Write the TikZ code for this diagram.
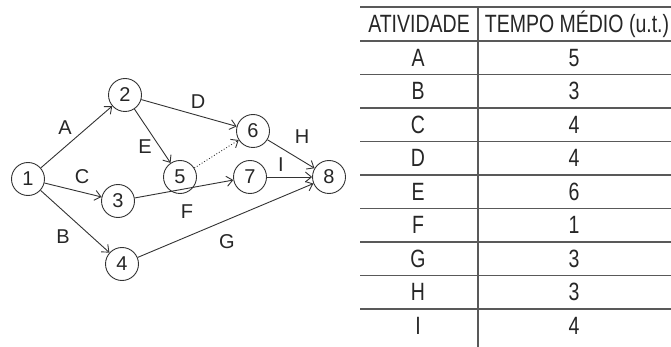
\documentclass[tikz,border=0pt]{standalone}
\usepackage{fontspec}
\setmainfont{Liberation Sans}
\newfontfamily\condfont{Liberation Sans}[FakeStretch=0.78]
\usetikzlibrary{arrows.meta}
\begin{document}
\begin{tikzpicture}[x=1pt,y=-1pt,
 vtx/.style={circle,draw=black!80,line width=0.9pt,minimum size=33pt,inner sep=0pt,text=black!85,font=\fontsize{20}{20}\selectfont},
 arc/.style={draw=black!80,line width=0.9pt,-{Straight Barb[length=6pt,width=10pt]}},
 lbl/.style={font=\fontsize{20}{20}\selectfont,inner sep=0pt,text=black!85},
 cell/.style={font=\condfont\fontsize{25}{25}\selectfont,inner sep=0pt,text=black!85},
 tabrule/.style={draw=black!65,line width=1.6pt}]
\useasboundingbox (0,0) rectangle (671,347);
% graph
\node[vtx] (n1) at (28,179) {1};
\node[vtx] (n2) at (125,95) {2};
\node[vtx] (n3) at (118,201) {3};
\node[vtx] (n4) at (122,264) {4};
\node[vtx] (n5) at (180,177) {5};
\node[vtx] (n6) at (253,131) {6};
\node[vtx] (n7) at (250,177) {7};
\node[vtx] (n8) at (329,177) {8};
\draw[arc] (n1) -- (n2);
\draw[arc] (n1) -- (n3);
\draw[arc] (n1) -- (n4);
\draw[arc] (n2) -- (n6);
\draw[arc] (n2) -- (n5);
\draw[arc,dotted] (n5) -- (n6);
\draw[arc] (n3) -- (n7);
\draw[arc] (n4) -- (n8);
\draw[arc] (n6) -- (n8);
\draw[arc] (n7) -- (n8);
\node[lbl] (lA) at (65,128) {A};
\node[lbl] (lB) at (63,237) {B};
\node[lbl] (lC) at (82,177) {C};
\node[lbl] (lD) at (198,102) {D};
\node[lbl] (lE) at (145,147) {E};
\node[lbl] (lF) at (187,212) {F};
\node[lbl] (lG) at (227,242) {G};
\node[lbl] (lH) at (302,137) {H};
\node[lbl] (lI) at (281,165) {I};
% table
\draw[tabrule] (360,7) -- (671,7);
\foreach \yy in {41,74.5,108,141.5,175,208.5,242,275.5,309} {\draw[tabrule] (360,\yy) -- (671,\yy);}
\draw[tabrule] (478,7) -- (478,347);
\node[cell] (h1) at (419,24) {ATIVIDADE};
\node[cell] (h2) at (577,24) {TEMPO MÉDIO (u.t.)};
\foreach \a/\t [count=\i] in {A/5,B/3,C/4,D/4,E/6,F/1,G/3,H/3,I/4} {
  \node[cell] (a\i) at (418,{24.25+33.5*\i}) {\a};
  \node[cell] (t\i) at (574,{24.25+33.5*\i}) {\t};
}
\end{tikzpicture}
\end{document}
